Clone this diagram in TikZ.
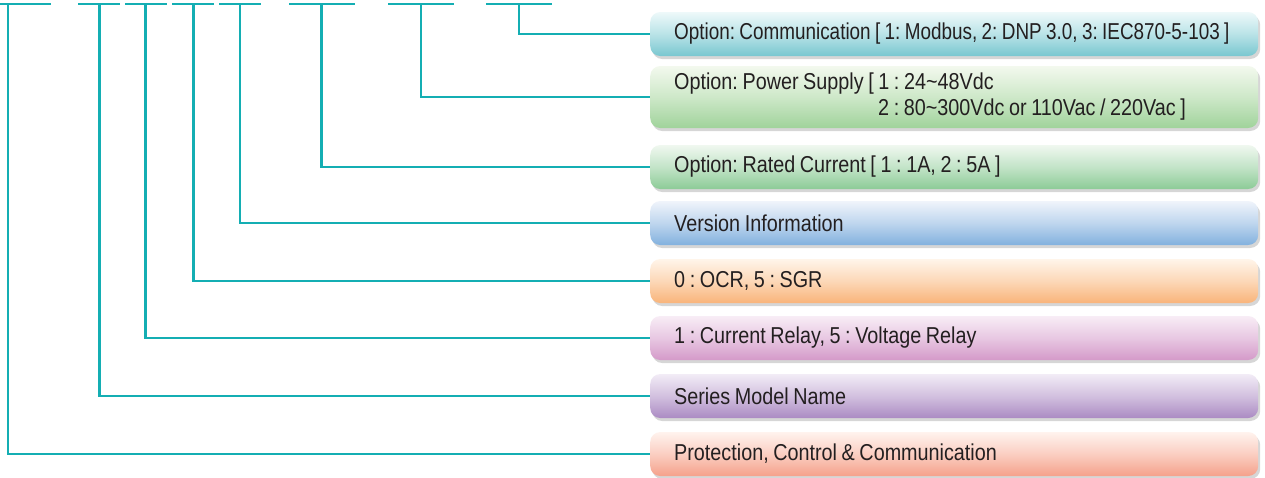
\documentclass[tikz,border=0pt]{standalone}
\usepackage{fontspec}
\setmainfont{Liberation Sans}[FakeStretch=0.86]
\usetikzlibrary{shadows}
\definecolor{teal1}{HTML}{14AEB3}
\definecolor{txt}{HTML}{231F20}
\definecolor{commT}{HTML}{EEF9FA}\definecolor{commB}{HTML}{79C7D0}
\definecolor{powT}{HTML}{F3F9EE}\definecolor{powB}{HTML}{A0D39B}
\definecolor{ratT}{HTML}{F0F8F0}\definecolor{ratB}{HTML}{8CCB97}
\definecolor{verT}{HTML}{F0F4FB}\definecolor{verB}{HTML}{82B1DE}
\definecolor{ocrT}{HTML}{FFF5EA}\definecolor{ocrB}{HTML}{F9B47A}
\definecolor{curT}{HTML}{F8EDF6}\definecolor{curB}{HTML}{D49AC9}
\definecolor{serT}{HTML}{F2ECF6}\definecolor{serB}{HTML}{AB8BC3}
\definecolor{proT}{HTML}{FFF3EE}\definecolor{proB}{HTML}{F5A18B}
\newcommand\tx{\spaceskip=4.6pt\xspaceskip=4.6pt\relax\hspace*{9pt}}
\begin{document}
\frenchspacing
\begin{tikzpicture}[x=1pt,y=-1pt,
  conn/.style={draw=teal1, line width=2.5pt},
  box/.style={rounded corners=10pt, anchor=west, minimum width=608pt,
    minimum height=44pt, text width=578pt, inner xsep=15pt, inner ysep=0pt,
    align=left, font=\fontsize{23}{26}\selectfont, text=txt,
    drop shadow={shadow xshift=2pt, shadow yshift=-3pt, fill=black, opacity=0.16}},
  shd/.style 2 args={top color=#1, bottom color=#2, middle color=#1!55!#2}]
\useasboundingbox (0,0) rectangle (1265,477);
% boxes
\node[box, shd={commT}{commB}] (comm) at (650,34) {\tx\scalebox{0.955}[1]{\mbox{Option: Communication [ 1: Modbus, 2: DNP 3.0, 3: IEC870-5-103 ]}}};
\node[box, shd={powT}{powB}, minimum height=62pt] (pow) at (650,97) {\tx Option: Power Supply [ 1 : 24\textasciitilde 48Vdc\\\hspace*{213pt}2 : 80\textasciitilde 300Vdc or 110Vac / 220Vac ]};
\node[box, shd={ratT}{ratB}] (rat) at (650,167) {\tx Option: Rated Current [ 1 : 1A, 2 : 5A ]};
\node[box, shd={verT}{verB}] (ver) at (650,223) {\tx Version Information};
\node[box, shd={ocrT}{ocrB}] (ocr) at (650,281) {\tx 0 : OCR, 5 : SGR};
\node[box, shd={curT}{curB}] (cur) at (650,338) {\tx 1 : Current Relay, 5 : Voltage Relay};
\node[box, shd={serT}{serB}] (ser) at (650,396) {\tx Series Model Name};
\node[box, shd={proT}{proB}] (pro) at (650,454) {\tx Protection, Control \& Communication};
% top bars
\coordinate (b1l) at (0,4);   \coordinate (b1r) at (51,4);
\coordinate (b2l) at (78,4);  \coordinate (b2r) at (120,4);
\coordinate (b3l) at (125,4); \coordinate (b3r) at (167,4);
\coordinate (b4l) at (172,4); \coordinate (b4r) at (214,4);
\coordinate (b5l) at (219,4); \coordinate (b5r) at (261,4);
\coordinate (b6l) at (289,4); \coordinate (b6r) at (355,4);
\coordinate (b7l) at (388,4); \coordinate (b7r) at (454,4);
\coordinate (b8l) at (486,4); \coordinate (b8r) at (552,4);
\foreach \i in {1,...,8} \draw[conn] (b\i l) -- (b\i r);
% connector tops
\coordinate (t1) at (8,4);
\coordinate (t2) at (99.5,4);
\coordinate (t3) at (145.5,4);
\coordinate (t4) at (193.5,4);
\coordinate (t5) at (240,4);
\coordinate (t6) at (321.5,4);
\coordinate (t7) at (421,4);
\coordinate (t8) at (519,4);
\draw[conn] (t1) |- (pro.west);
\draw[conn] (t2) |- (ser.west);
\draw[conn] (t3) |- (cur.west);
\draw[conn] (t4) |- (ocr.west);
\draw[conn] (t5) |- (ver.west);
\draw[conn] (t6) |- (rat.west);
\draw[conn] (t7) |- (pow.west);
\draw[conn] (t8) |- (comm.west);
\end{tikzpicture}
\end{document}
